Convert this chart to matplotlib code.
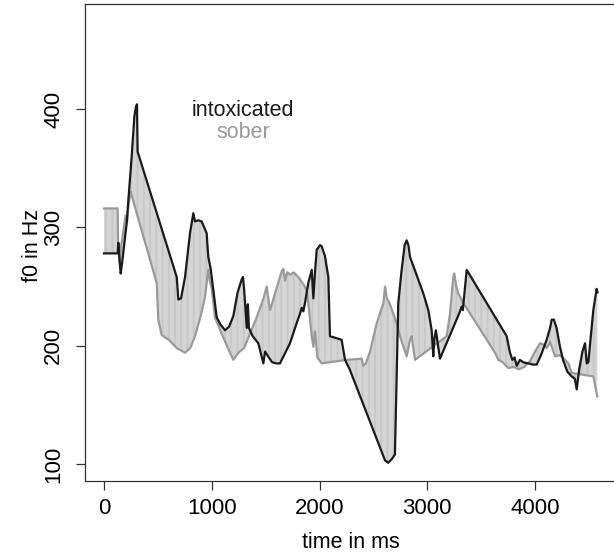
import numpy as np
import matplotlib
matplotlib.use("Agg")
import matplotlib.pyplot as plt

plt.rcParams["font.family"] = ["Liberation Sans", "DejaVu Sans"]
plt.rcParams["hatch.linewidth"] = 0.6

# f0 contours (time in ms, f0 in Hz)
intox_t = [0, 127, 133, 148, 155, 175, 189, 210, 226, 257, 282, 297, 306, 312,
           675, 690, 715, 752, 798, 829, 845, 875, 906, 953, 960, 968, 990,
           1046, 1080, 1123, 1160, 1200, 1240, 1278, 1290, 1300, 1310, 1325,
           1335, 1345, 1380, 1432, 1479, 1495, 1530, 1560, 1600, 1633, 1726,
           1788, 1819, 1835, 1850, 1865, 1896, 1928, 1943, 1958, 1974, 2005,
           2020, 2050, 2082, 2097, 2205, 2237, 2280, 2608, 2638, 2670, 2700,
           2731, 2760, 2790, 2809, 2825, 2840, 2900, 2964, 3010, 3041, 3050,
           3056, 3065, 3080, 3100, 3118, 3300, 3319, 3330, 3366, 3380, 3737,
           3768, 3790, 3810, 3830, 3860, 3890, 3938, 3980, 4016, 4060, 4108,
           4140, 4155, 4175, 4200, 4232, 4260, 4300, 4340, 4370, 4387, 4410,
           4440, 4464, 4480, 4495, 4520, 4541, 4572, 4580]
intox_f = [278, 278, 287, 268, 261, 275, 287, 303, 323, 360, 394, 402, 404, 364,
           258, 239, 240, 258, 295, 312, 305, 306, 305, 295, 285, 275, 265,
           224, 218, 213, 216, 225, 245, 256, 258, 248, 235, 215,
           235, 215, 208, 202, 185, 195, 190, 186, 185, 185, 202,
           219, 227, 232, 229, 236, 253, 264, 240, 262, 281, 285,
           284, 276, 258, 208, 205, 188, 180, 103, 101, 104, 108,
           236, 262, 285, 289, 285, 275, 260, 244, 230, 213, 200,
           191, 205, 213, 200, 189, 228, 233, 230, 264, 262, 208,
           194, 188, 190, 183, 188, 186, 185, 184, 184, 193, 205,
           215, 222, 222, 215, 199, 188, 178, 174, 172, 163, 180,
           195, 202, 185, 186, 210, 230, 248, 245]

sober_t = [0, 127, 130, 145, 160, 185, 200, 215, 226, 247, 489, 504, 535, 600,
           675, 752, 800, 845, 900, 937, 968, 980, 1000, 1030, 1092, 1150,
           1200, 1247, 1300, 1355, 1417, 1480, 1510, 1525, 1541, 1580, 1633,
           1650, 1664, 1680, 1700, 1730, 1760, 1803, 1850, 1881, 1896, 1912,
           1928, 1943, 1958, 1980, 2020, 2252, 2392, 2405, 2430, 2469, 2531,
           2593, 2608, 2625, 2650, 2716, 2747, 2809, 2840, 2855, 2886, 3180,
           3211, 3242, 3250, 3270, 3289, 3335, 3629, 3660, 3700, 3752, 3800,
           3850, 3900, 3954, 4000, 4046, 4077, 4108, 4140, 4186, 4230, 4280,
           4310, 4340, 4541, 4578]
sober_f = [316, 316, 288, 270, 285, 300, 310, 305, 318, 330, 253, 222, 209, 205,
           198, 194, 198, 208, 226, 241, 264, 256, 248, 224, 210, 198,
           188, 194, 198, 210, 224, 240, 250, 240, 230, 242, 258,
           263, 265, 255, 262, 260, 262, 258, 252, 247, 236, 222,
           208, 199, 212, 190, 185, 188, 189, 183, 185, 195, 219,
           236, 250, 240, 236, 219, 208, 191, 205, 208, 188, 208,
           227, 258, 261, 250, 244, 236, 194, 188, 186, 181, 182,
           180, 182, 187, 195, 202, 201, 198, 203, 191, 192, 188,
           185, 177, 174, 157]

yticks = [100, 200, 300, 400]
xticks = [0, 1000, 2000, 3000, 4000]

fig = plt.figure(figsize=(6.14, 5.58), dpi=100)
ax = fig.add_axes([84.5 / 614, 77 / 558, 532.4 / 614, 477 / 558])

# vertical hatching between the two contours
poly_t = np.concatenate([intox_t, sober_t[::-1]])
poly_f = np.concatenate([intox_f, sober_f[::-1]])
ax.fill(poly_t, poly_f, facecolor="none", edgecolor="#bdbdbd",
        hatch="|" * 14, linewidth=0)

ax.plot(sober_t, sober_f, color="#9a9a9a", linewidth=1.6)
ax.plot(intox_t, intox_f, color="#1a1a1a", linewidth=1.6)

ax.text(1290, 399, "intoxicated", color="#1a1a1a", fontsize=15.5,
        ha="center", va="center")
ax.text(1290, 380.5, "sober", color="#9a9a9a", fontsize=15.5,
        ha="center", va="center")

ax.set_xlim(-181, 4760)
ax.set_ylim(85.6, 488.8)
ax.set_xticks(xticks)
ax.set_yticks(yticks)
ax.set_yticklabels([str(v) for v in yticks], rotation=90, va="center")
ax.tick_params(direction="out", length=6.5, width=0.9, color="#333333",
               labelsize=16, pad=6)
ax.tick_params(axis="y", pad=8)
for s in ax.spines.values():
    s.set_color("#333333")
    s.set_linewidth(0.9)

ax.set_xlabel("time in ms", fontsize=15.5, va="center")
ax.set_ylabel("f0 in Hz", fontsize=15.5, va="center")
ax.xaxis.set_label_coords(0.5 - (84.5 + 266.2 - 351) / 532.4, -62 / 477)
ax.yaxis.set_label_coords(-51.5 / 532.4, 0.5 + (242.5 - 245) / 477)

fig.savefig("out.png", dpi=100)
